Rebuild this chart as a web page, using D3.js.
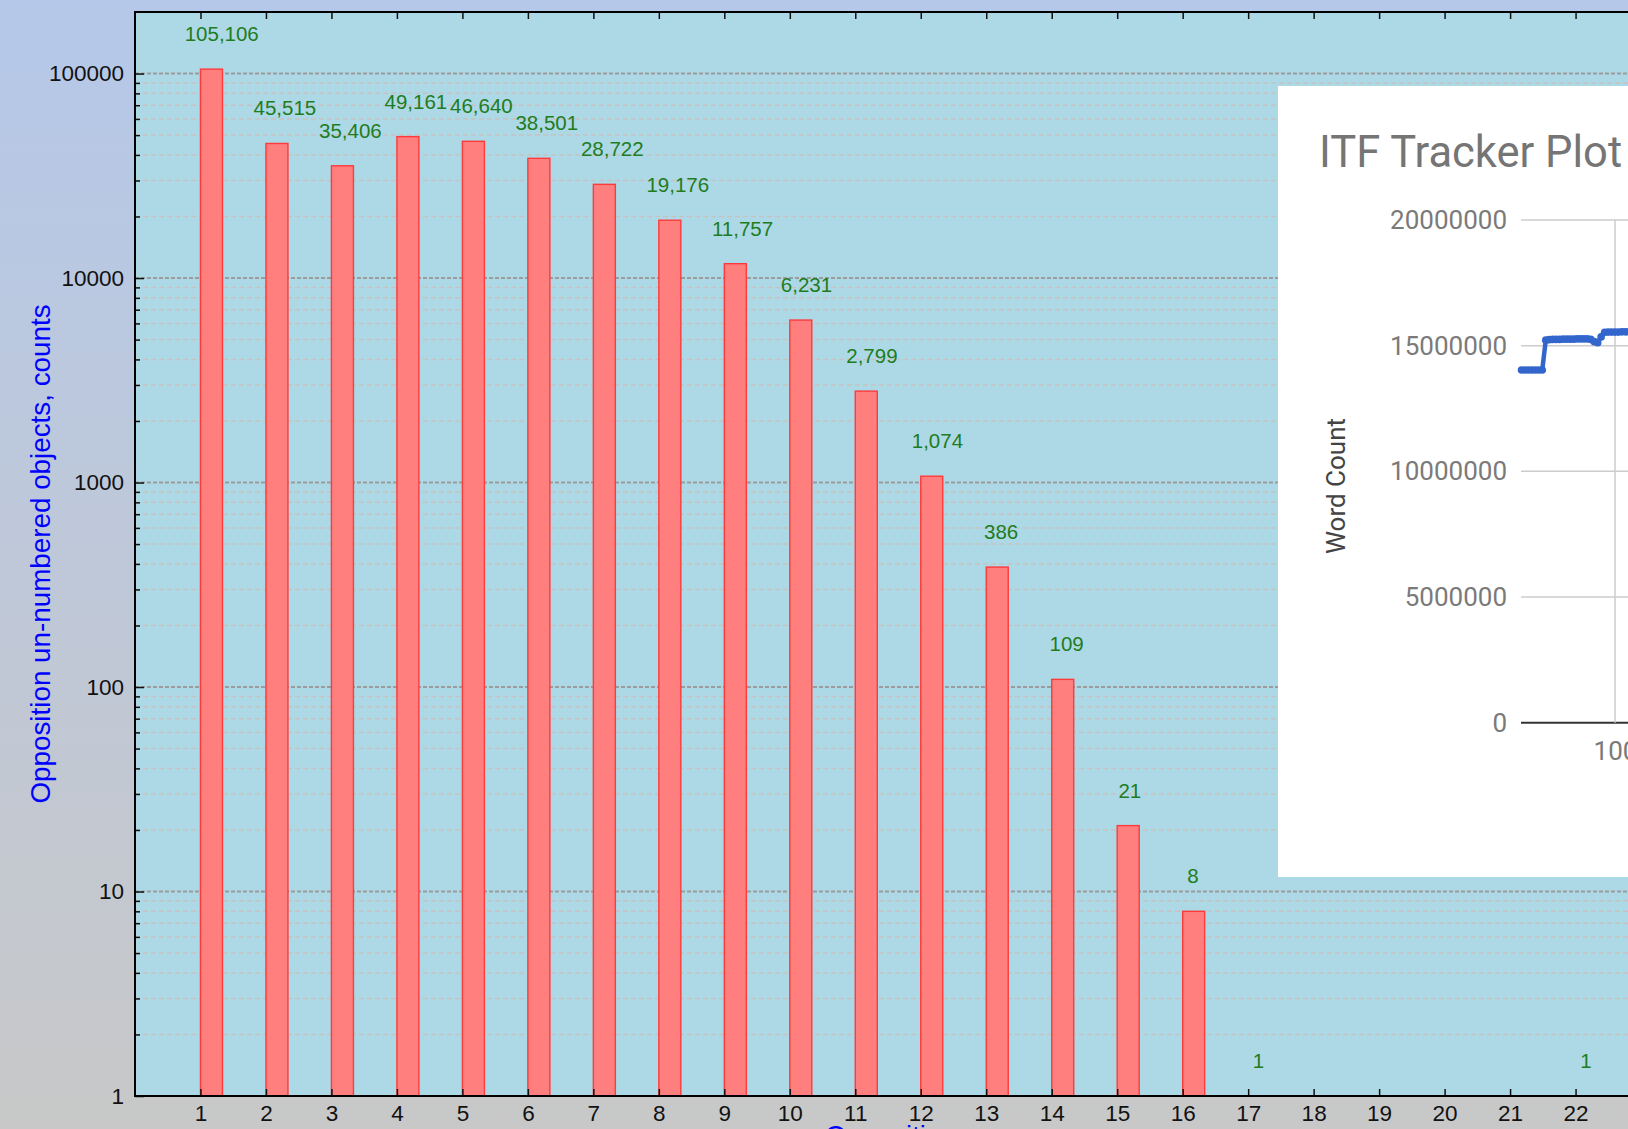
<!DOCTYPE html>
<html>
<head>
<meta charset="utf-8">
<script src="https://d3js.org/d3.v7.min.js"></script>
<style>
  body { margin: 0; }
  svg { display: block; }
</style>
</head>
<body>
<svg id="chart" width="1628" height="1129"></svg>
<script>

// main chart: objects seen at N oppositions
var oppositions = [1, 2, 3, 4, 5, 6, 7, 8, 9, 10, 11, 12, 13, 14, 15, 16, 17, 18, 19, 20, 21, 22];
var objectCounts = [105106, 45515, 35406, 49161, 46640, 38501, 28722, 19176, 11757, 6231, 2799, 1074, 386, 109, 21, 8, 1, 0, 0, 0, 0, 1];
var xTickValues = [1, 2, 3, 4, 5, 6, 7, 8, 9, 10, 11, 12, 13, 14, 15, 16, 17, 18, 19, 20, 21, 22];
var yTickValues = [1, 10, 100, 1000, 10000, 100000];

// pasted inset: ITF tracker
var itfDays = [73, 74, 75, 76, 77, 78, 79, 80, 81, 82, 83, 84, 85, 86, 87, 88, 89, 90, 91, 92, 93, 94, 95, 96, 97, 98, 99, 100, 101, 102, 103, 104, 105];
var itfWordCounts = [14030000, 14030000, 14030000, 14030000, 14030000, 14030000, 14030000,
  15220000, 15240000, 15250000, 15250000, 15250000, 15260000, 15260000, 15260000, 15260000, 15270000, 15270000, 15270000, 15270000,
  15250000, 15160000, 15120000, 15350000,
  15530000, 15540000, 15540000, 15540000, 15540000, 15550000, 15550000, 15550000, 15550000];
var itfYTicks = [0, 5000000, 10000000, 15000000, 20000000];
var itfXTicks = [100];

var svg = d3.select('#chart');

function drawBackground() {
  var grad = svg.append('defs').append('linearGradient')
    .attr('id', 'bg').attr('x1', 0).attr('y1', 0).attr('x2', 0).attr('y2', 1);
  grad.append('stop').attr('offset', '0%').attr('stop-color', '#b5c8e9');
  grad.append('stop').attr('offset', '100%').attr('stop-color', '#c8c8c8');
  svg.append('rect').attr('width', 1628).attr('height', 1129).attr('fill', 'url(#bg)');
}

function drawMain() {
  var left = 135, top = 12, bottom = 1096, unit = 65.48;
  var x = d3.scaleLinear().domain([0, 24]).range([left, left + 24 * unit]);
  var y = d3.scaleLog().domain([1, 200000]).range([bottom, top]);

  var g = svg.append('g');

  g.append('rect')
    .attr('x', left).attr('y', top)
    .attr('width', 24 * unit).attr('height', bottom - top)
    .attr('fill', '#add8e6');

  // grid lines
  var allTicks = y.ticks().filter(function (d) { return d < 200000; });
  var minor = allTicks.filter(function (d) { return yTickValues.indexOf(d) < 0; });
  var major = yTickValues.filter(function (d) { return d > 1; });

  g.selectAll('.minor-grid').data(minor).enter().append('line')
    .attr('class', 'minor-grid')
    .attr('x1', left).attr('x2', 1700)
    .attr('y1', function (d) { return y(d); }).attr('y2', function (d) { return y(d); })
    .attr('stroke', '#c9c1bf').attr('stroke-width', 1.5).attr('stroke-dasharray', '5,3');

  g.selectAll('.major-grid').data(major).enter().append('line')
    .attr('class', 'major-grid')
    .attr('x1', left).attr('x2', 1700)
    .attr('y1', function (d) { return y(d); }).attr('y2', function (d) { return y(d); })
    .attr('stroke', '#9c9c9c').attr('stroke-width', 2).attr('stroke-dasharray', '4,2');

  // bars
  var barData = oppositions.map(function (o, i) { return { o: o, v: objectCounts[i] }; })
    .filter(function (d) { return d.v > 0; });

  g.selectAll('.bar').data(barData).enter().append('rect')
    .attr('class', 'bar')
    .attr('x', function (d) { return x(d.o); })
    .attr('y', function (d) { return y(d.v); })
    .attr('width', x(0.336) - x(0))
    .attr('height', function (d) { return y(1) - y(d.v); })
    .attr('fill', '#ff7f7f').attr('stroke', '#ff3a3a').attr('stroke-width', 1.4);

  // value labels
  var fmt = d3.format(',');
  g.selectAll('.val').data(barData).enter().append('text')
    .attr('class', 'val')
    .attr('x', function (d) { return x(d.o) + 8 - 3.4 * fmt(d.v).length; })
    .attr('y', function (d) { return y(d.v) - 28; })
    .attr('font-family', 'Liberation Sans, Arial, sans-serif')
    .attr('font-size', 20.5)
    .attr('fill', '#1e7d1e')
    .text(function (d) { return fmt(d.v); });

  // axes
  var yAxis = d3.axisLeft(y).tickValues(yTickValues).tickFormat(d3.format('d'))
    .tickSizeInner(-9).tickSizeOuter(0).tickPadding(11);
  var yMinor = d3.axisLeft(y).tickValues(minor).tickFormat('')
    .tickSizeInner(-5).tickSizeOuter(0);
  var xAxis = d3.axisBottom(x).tickValues(xTickValues).tickFormat(d3.format('d'))
    .tickSizeInner(-7).tickSizeOuter(0).tickPadding(9);
  var xTop = d3.axisTop(x).tickValues(xTickValues).tickFormat('')
    .tickSizeInner(-7).tickSizeOuter(0);

  var ya = g.append('g').attr('transform', 'translate(' + left + ',0)').call(yAxis);
  g.append('g').attr('transform', 'translate(' + left + ',0)').call(yMinor);
  var xa = g.append('g').attr('transform', 'translate(0,' + bottom + ')').call(xAxis);
  g.append('g').attr('transform', 'translate(0,' + top + ')').call(xTop);

  g.selectAll('.domain').remove();
  g.selectAll('.tick line').attr('stroke', '#111').attr('stroke-width', 1.5);
  [ya, xa].forEach(function (a) {
    a.selectAll('text')
      .attr('font-family', 'Liberation Sans, Arial, sans-serif')
      .attr('font-size', 22.5)
      .attr('fill', '#111');
  });

  // frame
  g.append('path')
    .attr('d', 'M' + 1700 + ',' + top + 'H' + left + 'V' + bottom + 'H' + 1700)
    .attr('fill', 'none').attr('stroke', '#000').attr('stroke-width', 2);

  // axis titles
  g.append('text')
    .attr('transform', 'translate(49.5,554) rotate(-90)')
    .attr('text-anchor', 'middle')
    .attr('font-family', 'Liberation Sans, Arial, sans-serif')
    .attr('font-size', 27.8)
    .attr('fill', '#0000ff')
    .text('Opposition un-numbered objects, counts');

  // x title sits mostly below the visible area, only its top shows
  g.append('text')
    .attr('x', 825).attr('y', 1145)
    .attr('font-family', 'Liberation Sans, Arial, sans-serif')
    .attr('font-size', 27.5)
    .attr('fill', '#0000ff')
    .text('Oppositions');
}

function drawInset() {
  var g = svg.append('g');
  g.append('rect')
    .attr('x', 1278).attr('y', 86).attr('width', 400).attr('height', 791)
    .attr('fill', '#fff');

  var ix = d3.scaleLinear().domain([73, 100]).range([1521.5, 1615]);
  var iy = d3.scaleLinear().domain([0, 20000000]).range([722.7, 220]);

  g.append('text')
    .attr('x', 1319).attr('y', 167)
    .attr('font-family', 'Roboto, sans-serif')
    .attr('font-size', 43.5)
    .attr('fill', '#757575')
    .text('ITF Tracker Plot');

  // horizontal grid
  g.selectAll('.igrid').data(itfYTicks).enter().append('line')
    .attr('x1', 1521).attr('x2', 1640)
    .attr('y1', function (d) { return iy(d); }).attr('y2', function (d) { return iy(d); })
    .attr('stroke', function (d) { return d === 0 ? '#333' : '#cccccc'; })
    .attr('stroke-width', function (d) { return d === 0 ? 2 : 1.5; });

  // vertical grid
  g.selectAll('.ivgrid').data(itfXTicks).enter().append('line')
    .attr('x1', function (d) { return ix(d); }).attr('x2', function (d) { return ix(d); })
    .attr('y1', iy(20000000)).attr('y2', iy(0))
    .attr('stroke', '#cccccc').attr('stroke-width', 1.5);

  var ya = g.append('g').attr('transform', 'translate(1521,0)')
    .call(d3.axisLeft(iy).tickValues(itfYTicks).tickFormat(d3.format('d')).tickSize(0).tickPadding(14));
  var xa = g.append('g').attr('transform', 'translate(0,' + iy(0) + ')')
    .call(d3.axisBottom(ix).tickValues(itfXTicks).tickFormat(d3.format('d')).tickSize(0).tickPadding(19));
  g.selectAll('.domain').remove();
  [ya, xa].forEach(function (a) {
    a.selectAll('text')
      .attr('font-family', 'Roboto, sans-serif')
      .attr('font-size', 26)
      .attr('fill', '#7a7a7a');
  });

  g.append('text')
    .attr('transform', 'translate(1345,486) rotate(-90)')
    .attr('text-anchor', 'middle')
    .attr('font-family', 'Roboto, sans-serif')
    .attr('font-size', 26)
    .attr('fill', '#444')
    .text('Word Count');

  var pts = itfDays.map(function (d, i) { return [d, itfWordCounts[i]]; });
  var line = d3.line()
    .x(function (d) { return ix(d[0]); })
    .y(function (d) { return iy(d[1]); });

  g.append('path').datum(pts)
    .attr('d', line)
    .attr('fill', 'none').attr('stroke', '#3366cc').attr('stroke-width', 4.5);
  g.selectAll('.pt').data(pts).enter().append('circle')
    .attr('cx', function (d) { return ix(d[0]); })
    .attr('cy', function (d) { return iy(d[1]); })
    .attr('r', 3.8)
    .attr('fill', '#3366cc');
}

drawBackground();
drawMain();
drawInset();

</script>
</body>
</html>
